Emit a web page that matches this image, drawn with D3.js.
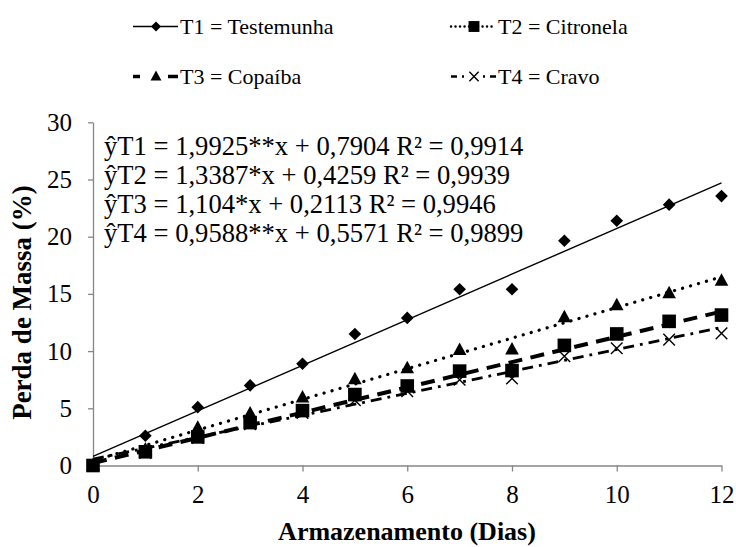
<!DOCTYPE html>
<html><head><meta charset="utf-8">
<script src="https://cdn.jsdelivr.net/npm/d3@7/dist/d3.min.js"></script>
</head><body style="margin:0"><svg id="c" width="736" height="547" font-family="Times New Roman"></svg>
<script>
const days = [0,1,2,3,4,5,6,7,8,9,10,11,12];
const t1 = [0,2.6,5.1,7.0,8.9,11.5,12.9,15.4,15.4,19.65,21.4,22.8,23.55];
const t2 = [0,1.4,3.3,4.55,5.95,7.55,8.5,10.1,10.15,12.95,14.0,15.05,16.15];
const t3 = [0,1.2,2.5,3.75,4.8,6.2,6.95,8.25,8.3,10.5,11.5,12.6,13.15];
const t4 = [0,1.1,2.4,3.6,4.6,5.7,6.5,7.5,7.6,9.55,10.25,11.0,11.55];
const fits = [[1.9925,0.7904],[1.3387,0.4259],[1.104,0.2113],[0.9588,0.5571]];
const eqs = ["ŷT1 = 1,9925**x + 0,7904 R² = 0,9914","ŷT2 = 1,3387*x + 0,4259 R² = 0,9939","ŷT3 = 1,104*x + 0,2113 R² = 0,9946","ŷT4 = 0,9588**x + 0,5571 R² = 0,9899"];
const legendLabels = ["T1 = Testemunha","T2 = Citronela","T3 = Copaíba","T4 = Cravo"];
const xTicks = [0,2,4,6,8,10,12];
const yTicks = [0,5,10,15,20,25,30];

const svg = d3.select("#c");
const x = d3.scaleLinear().domain([0,12]).range([93,721.5]);
const y = d3.scaleLinear().domain([0,30]).range([465.5,122.3]);

// axes
const ax = svg.append("g").attr("transform","translate(0,"+y(0)+")")
  .call(d3.axisBottom(x).tickValues(xTicks).tickSize(6).tickPadding(14).tickSizeOuter(0));
const ay = svg.append("g").attr("transform","translate("+x(0)+",0)")
  .call(d3.axisLeft(y).tickValues(yTicks).tickSize(5).tickPadding(16).tickSizeOuter(0));
[ax,ay].forEach(g=>{
  g.attr("font-family","Times New Roman").attr("font-size",25);
  g.selectAll("path,line").attr("stroke","#868686").attr("stroke-width",1.3);
  g.selectAll("text").attr("fill","#000");
});

// trend lines
const styles = [
  {w:1.4, dash:null, cap:"butt"},
  {w:3.2, dash:"0.1,8.2", cap:"round"},
  {w:4, dash:"14,8.5", cap:"butt"},
  {w:2.8, dash:"11,6,2.8,6", cap:"butt"}
];
fits.forEach((f,i)=>{
  const s = styles[i];
  svg.append("line")
    .attr("x1",x(0)).attr("y1",y(f[1]))
    .attr("x2",x(12)).attr("y2",y(f[0]*12+f[1]))
    .attr("stroke","#000").attr("stroke-width",s.w)
    .attr("stroke-dasharray",s.dash).attr("stroke-linecap",s.cap);
});

// markers
function marker(g,type,cx,cy,k){
  k = k||1;
  if(type==="diamond"){
    const r=6.3*k;
    g.append("path").attr("d",`M${cx},${cy-r}L${cx+r},${cy}L${cx},${cy+r}L${cx-r},${cy}Z`).attr("fill","#000");
  } else if(type==="square"){
    const h=6.8*k;
    g.append("rect").attr("x",cx-h).attr("y",cy-h).attr("width",2*h).attr("height",2*h).attr("fill","#000");
  } else if(type==="triangle"){
    g.append("path").attr("d",`M${cx},${cy-7.5*k}L${cx+6.8*k},${cy+5*k}L${cx-6.8*k},${cy+5*k}Z`).attr("fill","#000");
  } else if(type==="x"){
    const r=5.8*k;
    g.append("path").attr("d",`M${cx-r},${cy-r}L${cx+r},${cy+r}M${cx+r},${cy-r}L${cx-r},${cy+r}`).attr("stroke","#000").attr("stroke-width",1.4).attr("fill","none");
  }
}
const series = [[t4,"x"],[t3,"square"],[t2,"triangle"],[t1,"diamond"]];
const mg = svg.append("g");
series.forEach(([vals,type])=>{
  vals.forEach((v,i)=>marker(mg,type,x(days[i]),y(v)));
});

// equations
svg.append("g").selectAll("text").data(eqs).join("text")
  .style("font-family","Tinos").attr("font-size",26.6)
  .attr("x",104).attr("y",(d,i)=>154.5+i*29)
  .attr("fill","#000")
  .text(d=>d);

// axis titles
svg.append("text").attr("font-size",26).attr("x",407).attr("y",540).attr("text-anchor","middle")
  .attr("font-weight","bold").text("Armazenamento (Dias)");
svg.append("text").attr("font-size",27).attr("transform","translate(31,302.5) rotate(-90)").attr("text-anchor","middle")
  .attr("font-weight","bold").text("Perda de Massa (%)");

// legend
const leg = [
  {x:133,y:26.5,m:"diamond",dash:null,w:1.6,cap:"butt"},
  {x:451,y:26.5,m:"square",dash:"0.1,4.4",w:2.4,cap:"round"},
  {x:133,y:76.5,m:"triangle",dash:"7,28,10",w:3.6,cap:"butt"},
  {x:451,y:76.5,m:"x",dash:"6,5,2,19,2,5,6",w:2.6,cap:"butt"}
];
leg.forEach((l,i)=>{
  const g = svg.append("g");
  g.append("line").attr("x1",l.x).attr("x2",l.x+45).attr("y1",l.y).attr("y2",l.y)
    .attr("stroke","#000").attr("stroke-width",l.w).attr("stroke-dasharray",l.dash).attr("stroke-linecap",l.cap);
  marker(g,l.m,l.x+23,l.y,0.8);
  g.append("text").attr("font-family","Liberation Serif").attr("font-size",22).attr("x",l.x+47).attr("y",l.y+7)
    .attr("fill","#000").text(legendLabels[i]);
});
</script></body></html>
